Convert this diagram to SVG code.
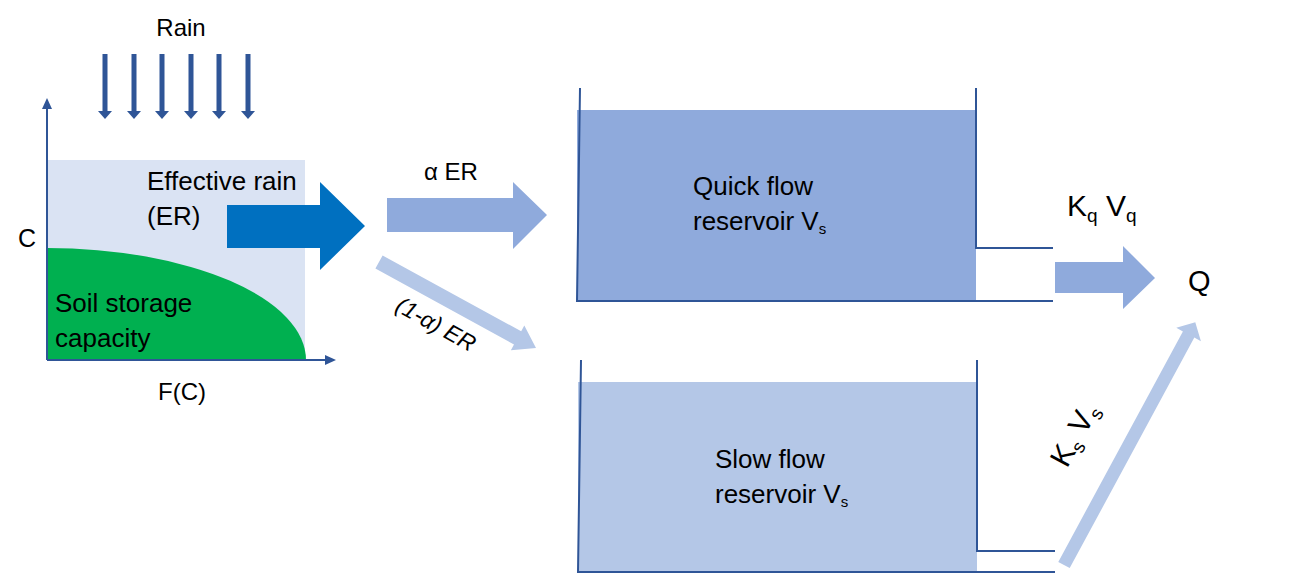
<svg xmlns="http://www.w3.org/2000/svg" width="1294" height="574" viewBox="0 0 1294 574">
  <style>
    text { font-family: "Liberation Sans", Arial, sans-serif; fill: #000; }
    .wall { fill: none; stroke: #2F5597; stroke-width: 2; }
    .axis { fill: none; stroke: #2F5597; stroke-width: 2; }
    .rain { fill: #2F5597; }
    .mid { fill: #8FAADC; }
    .light { fill: #B4C7E7; }
    .lbl { font-size: 26px; }
    .rate { font-size: 30px; }
  </style>
  <defs>
    <!-- rain drop arrow pointing down, origin at the top of the shaft -->
    <path id="drop" d="M-2.5,0 H2.5 V57 H7 L0,65 L-7,57 H-2.5 Z"/>
  </defs>

  <!-- Soil-moisture distribution panel -->
  <g id="soil-panel">
    <rect x="47" y="160" width="258" height="200" fill="#DAE3F3"/>
    <path d="M47,360 V248 A259,112 0 0 1 306,360 Z" fill="#00B050"/>
    <path class="axis" d="M47,360 V106 M47,360 H328"/>
    <path d="M42,109 L47,98 L52,109 Z" fill="#2F5597"/>
    <path d="M325,355 L336,360 L325,365 Z" fill="#2F5597"/>
    <text x="18" y="247" font-size="25">C</text>
    <text x="182" y="400" font-size="24" text-anchor="middle">F(C)</text>
    <text x="147" y="190" class="lbl">Effective rain</text>
    <text x="147" y="225" class="lbl">(ER)</text>
    <text x="55" y="312" class="lbl">Soil storage</text>
    <text x="55" y="347" class="lbl">capacity</text>
  </g>

  <!-- Rainfall -->
  <g id="rain">
    <text x="181" y="36" font-size="24" text-anchor="middle">Rain</text>
    <use href="#drop" class="rain" x="105" y="54"/>
    <use href="#drop" class="rain" x="134" y="54"/>
    <use href="#drop" class="rain" x="162" y="54"/>
    <use href="#drop" class="rain" x="191" y="54"/>
    <use href="#drop" class="rain" x="219" y="54"/>
    <use href="#drop" class="rain" x="248" y="54"/>
  </g>

  <!-- Quick flow reservoir -->
  <g id="quick-reservoir">
    <rect x="577" y="110" width="399" height="191" class="mid"/>
    <path class="wall" d="M580,88 L577,301 H1053 M976,88 V248 H1053"/>
    <text x="693" y="195" class="lbl">Quick flow</text>
    <text x="693" y="230" class="lbl">reservoir V<tspan font-size="15" dy="4">s</tspan></text>
  </g>

  <!-- Slow flow reservoir -->
  <g id="slow-reservoir">
    <rect x="578" y="382" width="399" height="190" class="light"/>
    <path class="wall" d="M581,360 L578,572 H1055 M977,360 V551 H1055"/>
    <text x="715" y="468" class="lbl">Slow flow</text>
    <text x="715" y="503" class="lbl">reservoir V<tspan font-size="15" dy="4">s</tspan></text>
  </g>

  <!-- Outlet -->
  <g id="outlet">
    <text x="1188" y="291" font-size="29">Q</text>
  </g>

  <!-- Flow connectors -->
  <g id="connectors">
    <!-- effective rain -->
    <path d="M227,205 H320 V182 L365,226 L320,270 V248 H227 Z" fill="#0070C0"/>
    <!-- alpha ER into quick reservoir -->
    <path class="mid" d="M387,198 H513 V182 L547,215 L513,249 V232 H387 Z"/>
    <text x="424" y="180" font-size="24">α ER</text>
    <!-- (1-alpha) ER into slow reservoir -->
    <g transform="translate(379,262) rotate(28.7)">
      <path class="light" d="M0,-7.5 H158 V-14 L179,0 L158,14 V7.5 H0 Z"/>
    </g>
    <text transform="translate(394,310) rotate(29)" font-size="23" font-style="italic">(1-α) ER</text>
    <!-- quick outflow -->
    <path class="mid" d="M1055,262 H1123 V246 L1155,278 L1123,309 V293 H1055 Z"/>
    <text x="1067" y="216" class="rate">K<tspan font-size="19" dy="6">q</tspan><tspan dy="-6"> V</tspan><tspan font-size="19" dy="6">q</tspan></text>
    <!-- slow outflow -->
    <g transform="translate(1064,565) rotate(-61.6)">
      <path class="light" d="M0,-6.5 H262 V-14 L276,0 L262,14 V6.5 H0 Z"/>
    </g>
    <text transform="translate(1067,469) rotate(-61.6)" class="rate">K<tspan font-size="19" dy="6">s</tspan><tspan dy="-6"> V</tspan><tspan font-size="19" dy="6">s</tspan></text>
  </g>
</svg>
